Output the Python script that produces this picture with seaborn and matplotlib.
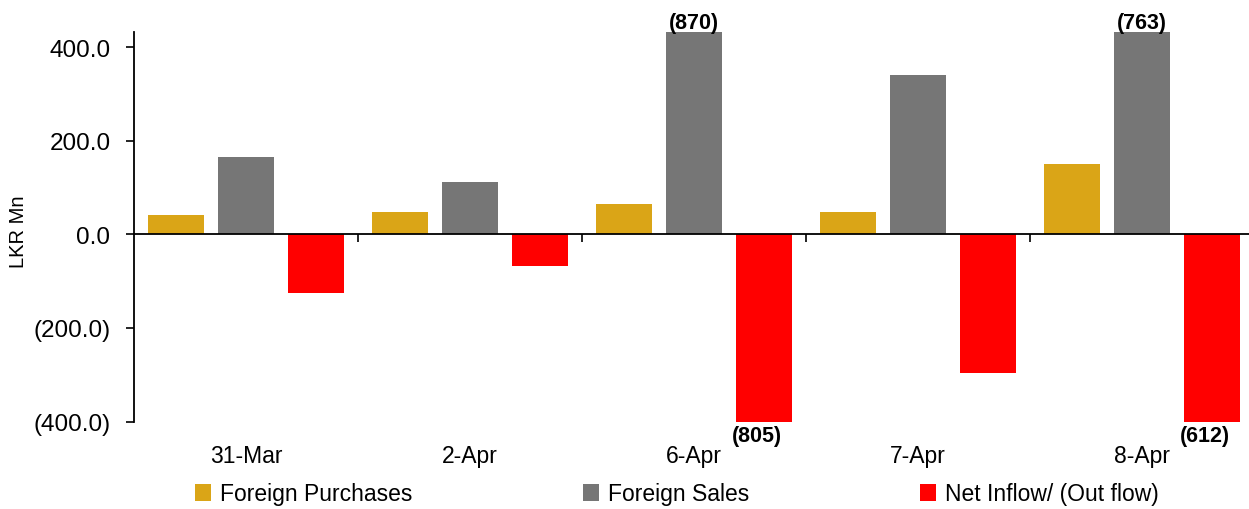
import numpy as np
import pandas as pd
import matplotlib
matplotlib.use('Agg')
import matplotlib.pyplot as plt
import seaborn as sns

# =========================================
# Dữ liệu
dates = ['31-Mar', '2-Apr', '6-Apr', '7-Apr', '8-Apr']
series_names = ['Foreign Purchases', 'Foreign Sales', 'Net Inflow/ (Out flow)']
purchases = [42, 48, 66, 48, 151]
sales = [165, 113, 870, 341, 763]
net_flow = [-125, -68, -805, -296, -612]
y_ticks = [-400, -200, 0, 200, 400]

colors = ['#DAA517', '#767676', '#FF0000']
y_min, y_max = -400, 433

df = pd.DataFrame({
    'date': dates * 3,
    'series': np.repeat(series_names, len(dates)),
    'value': purchases + sales + net_flow,
})

# =========================================
sns.set_style('white')
plt.rcParams['font.family'] = ['Liberation Sans', 'DejaVu Sans']
plt.rcParams['text.color'] = 'black'
plt.rcParams['axes.labelcolor'] = 'black'
plt.rcParams['xtick.color'] = 'black'
plt.rcParams['ytick.color'] = 'black'

fig = plt.figure(figsize=(12.49, 5.10), dpi=100)
ax = fig.add_axes([134 / 1249, 1 - 422.5 / 510, 1120 / 1249, 389.5 / 510])

sns.barplot(data=df, x='date', y='value', hue='series', order=dates,
            hue_order=series_names, palette=colors, width=0.9375, gap=0.2,
            linewidth=0, saturation=1, ax=ax, legend=True)

ax.set_ylim(y_min, y_max)
ax.set_xlim(-0.5, len(dates) - 0.5)

# Trục y
ax.set_yticks(y_ticks)
ax.set_yticklabels([f'{v:.1f}' if v >= 0 else f'({abs(v):.1f})' for v in y_ticks])
ax.tick_params(axis='y', direction='out', length=6, width=1.2, labelsize=17.5,
               left=True, pad=11)
ax.set_ylabel('LKR Mn', fontsize=14.5)
ax.yaxis.set_label_coords(-0.095, 0.49)

# Trục x nằm ở mức 0, nhãn ở dưới cùng
for side in ['top', 'right']:
    ax.spines[side].set_visible(False)
ax.spines['bottom'].set_position(('data', 0))
for side in ['left', 'bottom']:
    ax.spines[side].set_color('black')
    ax.spines[side].set_linewidth(1.3)
ax.set_xticks(np.arange(len(dates) - 1) + 0.5, minor=True)
ax.tick_params(axis='x', which='minor', direction='out', length=6, width=1.2,
               bottom=True)
ax.tick_params(axis='x', which='major', length=0, pad=151, labelsize=16.5)
ax.set_xlabel('')

# Nhãn cho các cột bị cắt
for container in ax.containers:
    for bar in container:
        h = bar.get_height()
        xc = bar.get_x() + bar.get_width() / 2
        if h > y_max:
            ax.text(xc, y_max - 2, f'({abs(h):.0f})', ha='center', va='bottom',
                    fontsize=15.5, fontweight='bold', clip_on=False)
        elif h < y_min:
            ax.text(xc - 0.03, y_min - 8, f'({abs(h):.0f})', ha='center', va='top',
                    fontsize=15.5, fontweight='bold', clip_on=False)

# Chú thích
handles, labels = ax.get_legend_handles_labels()
ax.get_legend().remove()
fig.legend(handles, labels, loc='center', bbox_to_anchor=(0.542, 1 - 495 / 510),
           ncol=3, frameon=False, fontsize=16.5, handlelength=0.7, handleheight=0.7,
           handletextpad=0.4, columnspacing=7.45)

fig.savefig('out.png', dpi=100)
